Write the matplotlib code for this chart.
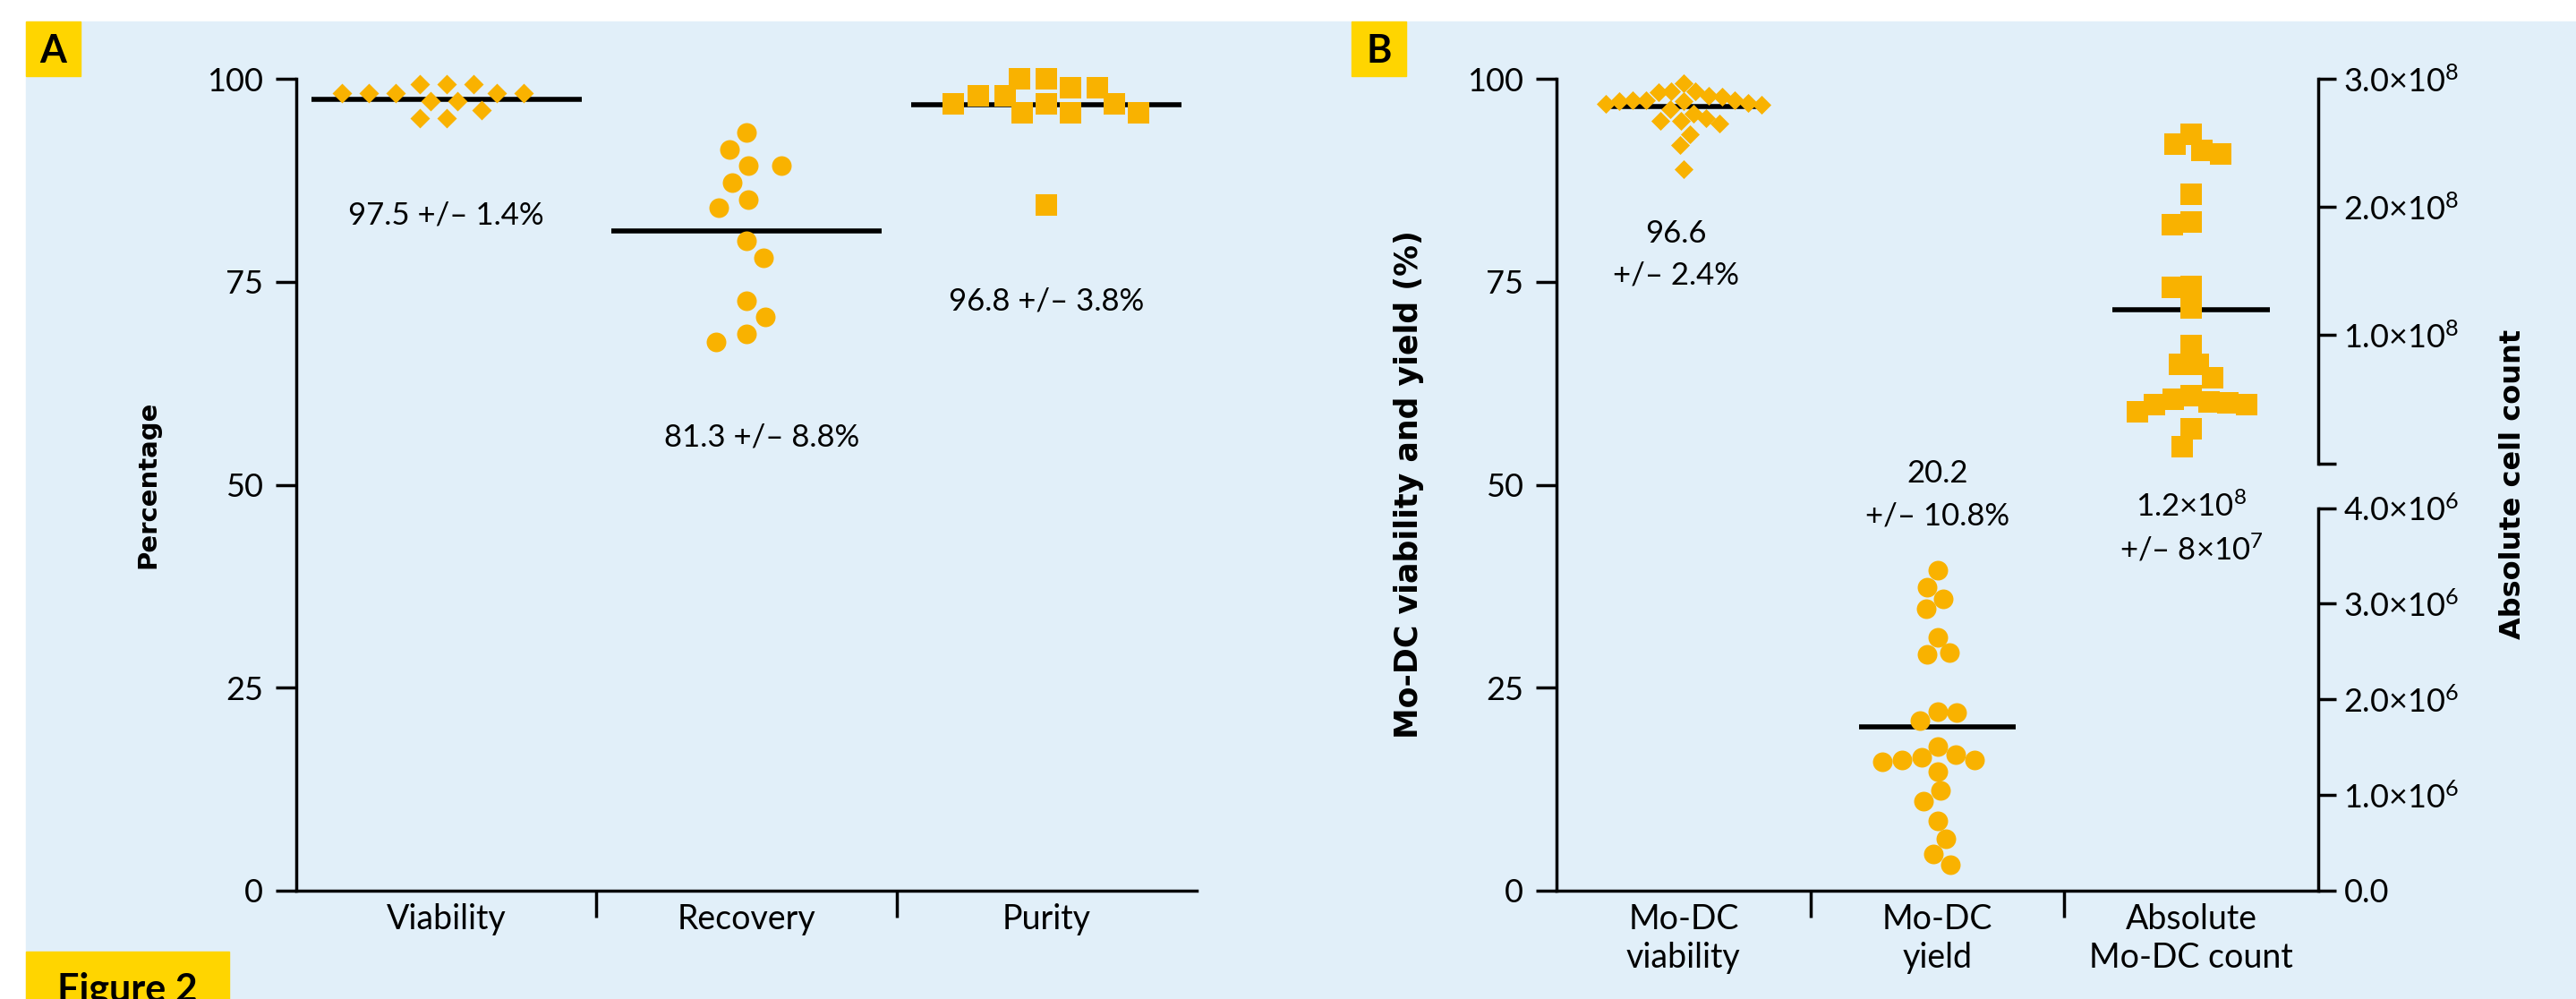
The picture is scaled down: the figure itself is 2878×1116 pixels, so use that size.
import numpy as np
import matplotlib
matplotlib.use("Agg")
import matplotlib.pyplot as plt
from matplotlib import font_manager
from matplotlib.patches import Rectangle

W, H, DPI = 2878, 1116, 100

# ---- panel A: cell preparation ----
a_categories = ["Viability", "Recovery", "Purity"]
a_viability = [99.3, 99.3, 99.3, 98.2, 98.2, 98.2, 98.2, 98.2, 97.2, 97.2, 96.1, 95.1, 95.1]
a_recovery = [93.4, 91.3, 89.3, 89.3, 87.2, 85.1, 84.1, 80.0, 77.9, 72.7, 70.7, 68.6, 67.6]
a_purity = [100.0, 100.0, 98.9, 98.9, 97.9, 97.9, 96.9, 96.9, 96.9, 95.8, 95.8, 95.8, 84.5]
a_means = [97.5, 81.3, 96.8]
a_sds = [1.4, 8.8, 3.8]
pct_ticks = [0, 25, 50, 75, 100]

# ---- panel B: Mo-DC generation ----
b_categories = ["Mo-DC\nviability", "Mo-DC\nyield", "Absolute\nMo-DC count"]
b_viability = [99.5, 98.5, 98.5, 98.3, 97.9, 97.8, 97.4, 97.4, 97.4, 97.2, 97.2, 97.0,
               96.9, 96.8, 96.3, 95.7, 95.2, 94.8, 94.8, 94.5, 93.2, 91.8, 88.9]
b_yield = [39.5, 37.4, 35.9, 34.7, 31.2, 29.3, 29.1, 22.0, 21.9, 20.9, 17.8, 16.8,
           16.4, 16.1, 16.1, 15.9, 14.7, 12.3, 11.0, 8.6, 6.4, 4.5, 3.2]
b_count = [2.57e8, 2.49e8, 2.44e8, 2.41e8, 2.10e8, 1.88e8, 1.86e8, 1.38e8, 1.37e8, 1.21e8,
           0.92e8, 0.77e8, 0.77e8, 0.67e8, 0.53e8, 0.50e8, 0.48e8, 0.47e8, 0.46e8, 0.46e8,
           0.40e8, 0.27e8, 0.13e8]
b_means = [96.6, 20.2, 1.2e8]
b_sds = [2.4, 10.8, 8e7]
count_ticks = [0, 1e8, 2e8, 3e8]
small_count_ticks = [0, 1e6, 2e6, 3e6, 4e6]

BG = "#E1EFF9"
YELLOW = "#FFD500"
DOT = "#F9B200"


def pick_font(names):
    for n in names:
        try:
            font_manager.findfont(font_manager.FontProperties(family=n), fallback_to_default=False)
            return n
        except ValueError:
            pass
    return "DejaVu Sans"


body = pick_font(["Lato", "Liberation Sans", "DejaVu Sans"])
plt.rcParams["font.family"] = [body, "DejaVu Sans"]
plt.rcParams["mathtext.fontset"] = "custom"
plt.rcParams["mathtext.rm"] = body
plt.rcParams["mathtext.it"] = body + ":italic"
plt.rcParams["mathtext.bf"] = body + ":bold"


def box(x0, y0, x1, y1):
    # pixel box (top-left origin) -> figure fraction rect
    return [x0 / W, 1 - y1 / H, (x1 - x0) / W, (y1 - y0) / H]


def sci(v, nd):
    e = int(np.floor(np.log10(v)))
    return f"{v / 10 ** e:.{nd}f}×10$^{{{e}}}$"


def swarm_offsets(ax, values, xgap, ygap):
    """Horizontal offsets (data units) so markers of a group don't overlap."""
    pts = ax.transData.transform(np.column_stack([np.zeros(len(values)), values]))
    ys = pts[:, 1]
    x_unit = ax.transData.transform([(1, 0)])[0, 0] - ax.transData.transform([(0, 0)])[0, 0]
    placed = []
    offsets = np.zeros(len(values))
    for i in np.argsort(-ys, kind="stable"):
        y = ys[i]
        near = [(px, py) for px, py in placed if abs(py - y) < ygap]
        cands = [0.0]
        for px, py in near:
            h = xgap * np.sqrt(1 - ((py - y) / ygap) ** 2)
            cands += [px - h, px + h]
        bias = sum(px for px, _ in placed)
        cands.sort(key=lambda c: (round(abs(c), 3), c * (1 if bias >= 0 else -1)))
        for c in cands:
            if all(((px - c) / xgap) ** 2 + ((py - y) / ygap) ** 2 >= 1 - 1e-6 for px, py in near):
                break
        placed.append((c, y))
        offsets[i] = c / x_unit
    return offsets


def style_axis(ax, labels):
    ax.patch.set_visible(False)
    for s in ("top", "right"):
        ax.spines[s].set_visible(False)
    for s in ("left", "bottom"):
        ax.spines[s].set_linewidth(2.5)
    ax.set_xlim(0, 3)
    ax.set_ylim(0, 100)
    ax.set_yticks(pct_ticks)
    ax.tick_params(axis="y", length=16.5, width=2.5, pad=10, labelsize=26)
    ax.set_xticks([1, 2])
    ax.set_xticklabels([])
    ax.set_xticks([0.5, 1.5, 2.5], minor=True)
    ax.set_xticklabels(labels, minor=True, linespacing=1.25)
    ax.tick_params(axis="x", which="major", length=21.5, width=2.5)
    ax.tick_params(axis="x", which="minor", length=0, pad=10, labelsize=27)


def dot_group(ax, center, values, marker, size, xgap, ygap, mean, half):
    off = swarm_offsets(ax, values, xgap, ygap)
    ax.hlines(mean, center - half, center + half, color="black", lw=4, zorder=2, clip_on=False)
    ax.scatter(center + off, values, marker=marker, s=size, color=DOT, linewidths=0,
               zorder=3, clip_on=False)


fig = plt.figure(figsize=(W / DPI, H / DPI), dpi=DPI)
fig.patch.set_facecolor("white")
fig.patches.append(Rectangle((29 / W, 0), 1 - 29 / W, 1 - 24 / H, transform=fig.transFigure,
                             color=BG, zorder=-5))
for x0, x1, y0, y1 in [(29, 90, 24, 85), (1510, 1571, 24, 85), (29, 256, 1063, 1116)]:
    fig.patches.append(Rectangle((x0 / W, 1 - y1 / H), (x1 - x0) / W, (y1 - y0) / H,
                                 transform=fig.transFigure, color=YELLOW, zorder=-4))
fig.text(59.5 / W, 1 - 57 / H, "A", fontsize=31, fontweight="bold", ha="center", va="center")
fig.text(1540.5 / W, 1 - 57 / H, "B", fontsize=31, fontweight="bold", ha="center", va="center")
fig.text(142 / W, 1 - 1119 / H, "Figure 2", fontsize=31, fontweight="bold", ha="center",
         va="baseline")

# ---- A ----
axA = fig.add_axes(box(331, 88, 1337, 995))
style_axis(axA, a_categories)
axA.set_ylabel("Percentage", fontsize=21, fontweight="bold", family="DejaVu Sans", va="center")
axA.yaxis.set_label_coords((165 - 331) / 1006, 0.5)

a_groups = [(a_viability, "D", 125, 30, 21), (a_recovery, "o", 250, 37, 22), (a_purity, "s", 275, 30, 23)]
a_text_y = [82.1, 54.7, 71.5]
a_text_x = [0.5, 1.55, 2.5]
for k, (vals, mk, sz, gx, gy) in enumerate(a_groups):
    dot_group(axA, k + 0.5, vals, mk, sz, gx, gy, a_means[k], 0.45)
    axA.text(a_text_x[k], a_text_y[k], f"{a_means[k]} +/– {a_sds[k]}%", fontsize=25,
             ha="center", va="baseline")

# ---- B ----
axB = fig.add_axes(box(1739, 88, 2590, 995))
style_axis(axB, b_categories)
axB.set_ylabel("Mo-DC viability and yield (%)", fontsize=25, fontweight="bold",
               family="DejaVu Sans", va="center")
axB.yaxis.set_label_coords((1574 - 1739) / 851, 0.5)

# right-hand absolute count scales
axC = fig.add_axes(box(1739, 88, 2590, 517.6))
axS = fig.add_axes(box(1739, 567.6, 2590, 995))
for ax, ticks, lim, fmt in [(axC, count_ticks, 3e8, lambda v: sci(v, 1) if v else ""),
                            (axS, small_count_ticks, 4e6, lambda v: sci(v, 1) if v else "0.0")]:
    ax.patch.set_visible(False)
    for s in ("top", "left", "bottom"):
        ax.spines[s].set_visible(False)
    ax.spines["right"].set_linewidth(2.5)
    ax.set_xlim(0, 3)
    ax.set_ylim(0, lim)
    ax.set_xticks([])
    ax.yaxis.tick_right()
    ax.set_yticks(ticks)
    ax.set_yticklabels([fmt(v) for v in ticks])
    ax.tick_params(axis="y", length=14.5, width=2.5, pad=6, labelsize=26)

fig.text(2808 / W, 1 - 541 / H, "Absolute cell count", fontsize=23, fontweight="bold",
         family="DejaVu Sans", rotation=90, ha="center", va="center")

dot_group(axB, 0.5, b_viability, "D", 115, 15, 20, b_means[0], 0.31)
dot_group(axB, 1.5, b_yield, "o", 250, 22, 22, b_means[1], 0.31)
dot_group(axC, 2.5, b_count, "s", 275, 21, 23, b_means[2], 0.31)

axB.text(0.47, 79.8, f"{b_means[0]}", fontsize=25, ha="center", va="baseline")
axB.text(0.47, 74.75, f"+/– {b_sds[0]}%", fontsize=25, ha="center", va="baseline")
axB.text(1.5, 50.3, f"{b_means[1]}", fontsize=25, ha="center", va="baseline")
axB.text(1.5, 45.0, f"+/– {b_sds[1]}%", fontsize=25, ha="center", va="baseline")
axB.text(2.5, 46.1, sci(b_means[2], 1), fontsize=25, ha="center", va="baseline")
axB.text(2.5, 40.7, "+/– " + sci(b_sds[2], 0), fontsize=25, ha="center", va="baseline")

fig.savefig("out.png", dpi=DPI)
